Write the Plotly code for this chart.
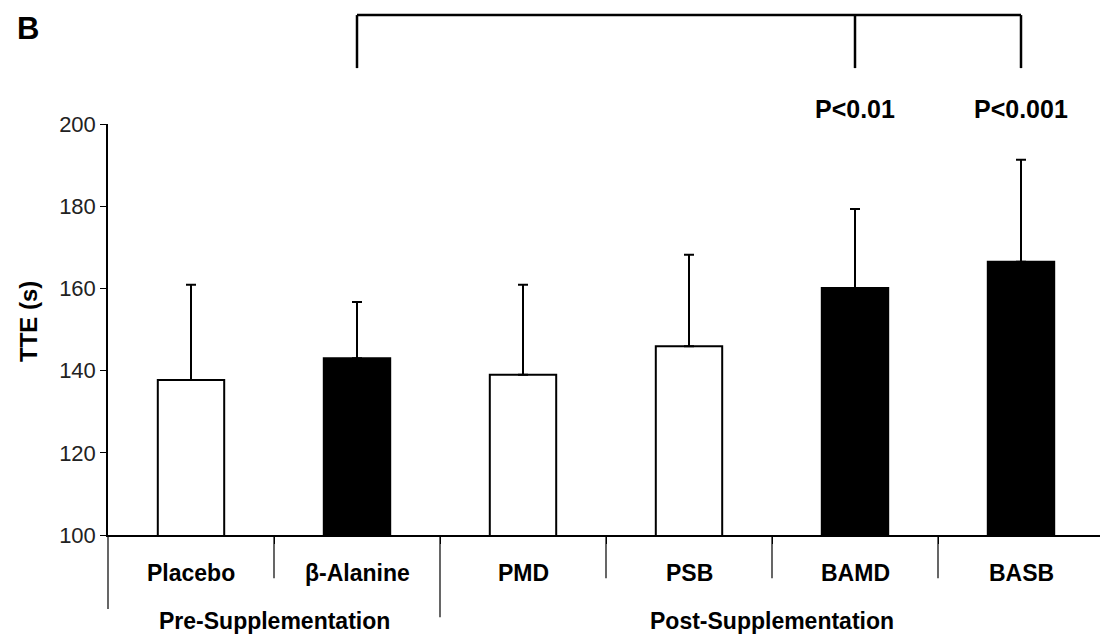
import plotly.graph_objects as go

categories = ["Placebo", "β-Alanine", "PMD", "PSB", "BAMD", "BASB"]
means = [137.7, 143.0, 139.0, 145.9, 160.1, 166.5]
sd_up = [23.2, 13.7, 21.9, 22.3, 19.2, 24.8]
fills = ["white", "black", "white", "white", "black", "black"]
groups = ["Pre-Supplementation", "Post-Supplementation"]
group_centers = [0.5, 3.5]
y_ticks = [100, 120, 140, 160, 180, 200]
sig_labels = ["P<0.01", "P<0.001"]
sig_idx = [4, 5]
ref_idx = 1

xs = list(range(len(categories)))
FONT = "Liberation Sans, Arial, sans-serif"

fig = go.Figure()
fig.add_trace(go.Bar(
    x=xs, y=means, base=0,
    marker=dict(color=fills, line=dict(color="black", width=2)),
    width=0.4,
    error_y=dict(type="data", array=sd_up, arrayminus=[0]*len(sd_up), symmetric=False,
                 color="black", thickness=2, width=5),
    showlegend=False,
))

x_hi = -0.5 + 992/166
shapes = []
for b in [0.5, 1.5, 2.5, 3.5, 4.5]:
    bottom = -0.2 if b == 1.5 else -0.105
    shapes.append(dict(type="line", xref="x", yref="paper", x0=b, x1=b, y0=0, y1=bottom,
                       line=dict(color="black", width=1.2)))
shapes.append(dict(type="line", xref="paper", yref="paper", x0=0, x1=0, y0=0, y1=-0.18,
                   line=dict(color="black", width=1.2)))
top_y = 1.265
drop_y = 1.136
shapes.append(dict(type="line", xref="x", yref="paper", x0=ref_idx, x1=sig_idx[-1], y0=top_y, y1=top_y,
                   line=dict(color="black", width=2.5)))
for i in [ref_idx] + sig_idx:
    shapes.append(dict(type="line", xref="x", yref="paper", x0=i, x1=i, y0=top_y, y1=drop_y,
                       line=dict(color="black", width=2.5)))

annotations = []
for i, c in zip(xs, categories):
    annotations.append(dict(x=i, y=(535-573)/411, xref="x", yref="paper", text=f"<b>{c}</b>",
                            xanchor="center", yanchor="middle",
                            showarrow=False, font=dict(size=23, color="black", family=FONT)))
for gx, g in zip(group_centers, groups):
    annotations.append(dict(x=gx, y=(535-621)/411, xref="x", yref="paper", text=f"<b>{g}</b>",
                            xanchor="center", yanchor="middle",
                            showarrow=False, font=dict(size=23, color="black", family=FONT)))
for i, s in zip(sig_idx, sig_labels):
    annotations.append(dict(x=i, y=(535-109)/411, xref="x", yref="paper", text=f"<b>{s}</b>",
                            xanchor="center", yanchor="middle",
                            showarrow=False, font=dict(size=25, color="black", family=FONT)))
annotations.append(dict(x=(28-108)/992, y=(535-29)/411, xref="paper", yref="paper",
                        text="<b>B</b>", showarrow=False, xanchor="center", yanchor="middle",
                        font=dict(size=31, color="black", family=FONT)))
annotations.append(dict(x=(28-108)/992, y=(535-322)/411, xref="paper", yref="paper",
                        text="<b>TTE (s)</b>", textangle=-90, showarrow=False,
                        xanchor="center", yanchor="middle",
                        font=dict(size=24, color="black", family=FONT)))

fig.update_layout(
    width=1100, height=639,
    margin=dict(l=108, r=0, t=124, b=104),
    paper_bgcolor="white", plot_bgcolor="white",
    bargap=0.6,
    shapes=shapes,
    annotations=annotations,
    xaxis=dict(range=[-0.5, x_hi], tickmode="array", tickvals=[0.5, 1.5, 2.5, 3.5, 4.5],
               ticktext=[""]*5, ticks="outside", ticklen=7, tickcolor="black", tickwidth=1.2,
               showline=True, linecolor="black", linewidth=1.5, showgrid=False, zeroline=False),
    yaxis=dict(range=[100, 200], tickvals=y_ticks, ticks="outside", ticklen=6,
               tickcolor="black", tickwidth=1.2, showline=True, linecolor="black", linewidth=1.5,
               showgrid=False, zeroline=False,
               tickfont=dict(size=22, color="#222", family=FONT)),
    font=dict(family=FONT),
)

fig.write_html("out.html")
